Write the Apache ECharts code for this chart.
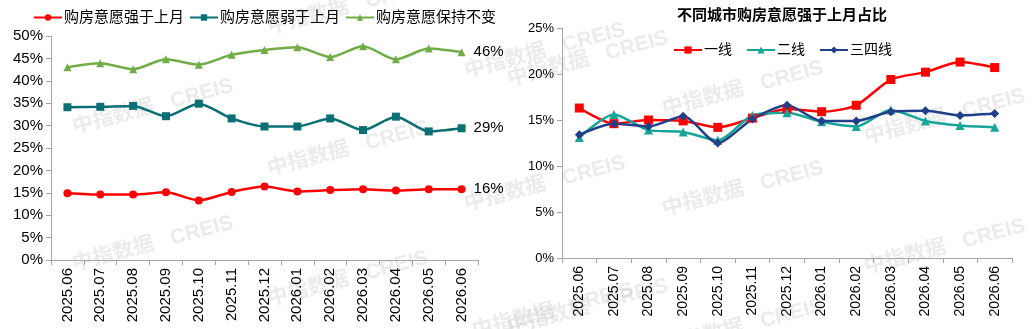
<!DOCTYPE html>
<html>
<head>
<meta charset="utf-8">
<script src="https://cdn.jsdelivr.net/npm/echarts@6/dist/echarts.min.js"></script>
<style>
  html, body { margin: 0; padding: 0; background: #fff; }
  #chart { width: 1032px; height: 329px; }
</style>
</head>
<body>
<div id="chart"></div>
<script>
// months shared by both panels
const months = ['2025.06', '2025.07', '2025.08', '2025.09', '2025.10', '2025.11', '2025.12',
  '2026.01', '2026.02', '2026.03', '2026.04', '2026.05', '2026.06']

// left panel: national buying intention (%)
const stronger = [14.9, 14.6, 14.6, 15.1, 13.3, 15.2, 16.4, 15.3, 15.6, 15.8, 15.5, 15.8, 15.8]
const weaker = [34.1, 34.2, 34.4, 32.1, 34.9, 31.6, 29.8, 29.8, 31.6, 29.0, 32.0, 28.7, 29.4]
const unchanged = [43.0, 43.9, 42.6, 44.8, 43.6, 45.8, 46.9, 47.5, 45.3, 47.7, 44.8, 47.2, 46.4]

// right panel: share stronger than last month by city tier (%)
const tier1 = [16.3, 14.6, 15.0, 14.9, 14.2, 15.2, 16.2, 15.9, 16.6, 19.4, 20.2, 21.3, 20.7]
const tier2 = [13.1, 15.6, 13.9, 13.7, 12.8, 15.5, 15.8, 14.8, 14.3, 16.1, 14.9, 14.4, 14.2]
const tier34 = [13.4, 14.6, 14.3, 15.4, 12.5, 15.1, 16.6, 14.9, 14.9, 15.9, 16.0, 15.5, 15.7]

const leftNames = ['购房意愿强于上月', '购房意愿弱于上月', '购房意愿保持不变']
const rightNames = ['一线', '二线', '三四线']
const chartTitle = '不同城市购房意愿强于上月占比'
const watermark = '中指数据   CREIS'

const font = 'Arial, "Liberation Sans", "Noto Sans CJK SC", sans-serif'
const last = months.length - 1

function xAxisFor (gridIndex, size) {
  return {
    type: 'category',
    gridIndex: gridIndex,
    data: months,
    boundaryGap: true,
    axisLine: { lineStyle: { color: '#a6a6a6', width: 1 } },
    axisTick: { show: true, inside: false, length: 5, lineStyle: { color: '#a6a6a6' } },
    axisLabel: { rotate: 90, interval: 0, margin: 8, color: '#000', fontSize: size, fontFamily: font }
  }
}

function yAxisFor (gridIndex, max, size) {
  return {
    type: 'value',
    gridIndex: gridIndex,
    min: 0,
    max: max,
    interval: 5,
    splitLine: { show: false },
    axisLine: { show: true, lineStyle: { color: '#a6a6a6', width: 1 } },
    axisTick: { show: true, length: 5, lineStyle: { color: '#a6a6a6' } },
    axisLabel: { formatter: '{value}%', color: '#000', fontSize: size, fontFamily: font, margin: 8 }
  }
}

function leftSeries (name, data, color, symbol) {
  return {
    name: name,
    type: 'line',
    xAxisIndex: 0,
    yAxisIndex: 0,
    data: data,
    smooth: 0.25,
    symbol: symbol,
    symbolSize: 8,
    lineStyle: { color: color, width: 2.5 },
    itemStyle: { color: color },
    label: {
      show: true,
      position: 'right',
      distance: 8,
      color: '#000',
      fontSize: 15,
      fontFamily: font,
      formatter: p => p.dataIndex === last ? Math.round(p.value) + '%' : ''
    }
  }
}

function rightSeries (name, data, color, symbol) {
  return {
    name: name,
    type: 'line',
    xAxisIndex: 1,
    yAxisIndex: 1,
    data: data,
    smooth: 0.25,
    symbol: symbol,
    symbolSize: 9,
    lineStyle: { color: color, width: 2.5 },
    itemStyle: { color: color }
  }
}

// light diagonal watermark text
const marks = [
  [70, 118], [265, 18], [265, 160], [70, 255], [265, 290], [462, 62], [462, 195], [470, 322],
  [505, 70], [660, 100], [862, 128], [660, 200], [862, 258], [505, 318], [660, 338]
].map(p => ({
  type: 'text',
  x: p[0],
  y: p[1],
  rotation: 0.26,
  z: -1,
  silent: true,
  style: { text: watermark, fill: 'rgba(190,190,190,0.3)', font: 'bold 21px ' + font }
}))

const option = {
  animation: false,
  backgroundColor: '#fff',
  title: {
    text: chartTitle,
    left: 777,
    textAlign: 'center',
    top: 3,
    textStyle: { fontSize: 15, fontWeight: 'bold', color: '#000', fontFamily: font }
  },
  legend: [
    {
      data: leftNames,
      left: 28,
      top: 5,
      itemWidth: 28,
      itemHeight: 8,
      itemGap: 5,
      textStyle: { fontSize: 15, color: '#000', fontFamily: font, padding: [0, 0, 0, -3] }
    },
    {
      data: rightNames,
      left: 668,
      top: 38,
      itemWidth: 28,
      itemHeight: 9,
      itemGap: 14,
      textStyle: { fontSize: 14, color: '#000', fontFamily: font, padding: [0, 0, 0, -3] }
    }
  ],
  grid: [
    { left: 51, top: 36, width: 427, height: 224 },
    { left: 562, top: 28, width: 450, height: 230 }
  ],
  xAxis: [xAxisFor(0, 15), xAxisFor(1, 14)],
  yAxis: [yAxisFor(0, 50, 15), yAxisFor(1, 25, 13)],
  graphic: marks,
  series: [
    leftSeries(leftNames[0], stronger, '#ff0000', 'circle'),
    leftSeries(leftNames[1], weaker, '#0b6f74', 'rect'),
    leftSeries(leftNames[2], unchanged, '#70ad47', 'triangle'),
    rightSeries(rightNames[0], tier1, '#ff0000', 'rect'),
    rightSeries(rightNames[1], tier2, '#17a599', 'triangle'),
    rightSeries(rightNames[2], tier34, '#223f8a', 'diamond')
  ]
}

const myChart = echarts.init(document.getElementById('chart'))
myChart.setOption(option)
</script>
</body>
</html>
